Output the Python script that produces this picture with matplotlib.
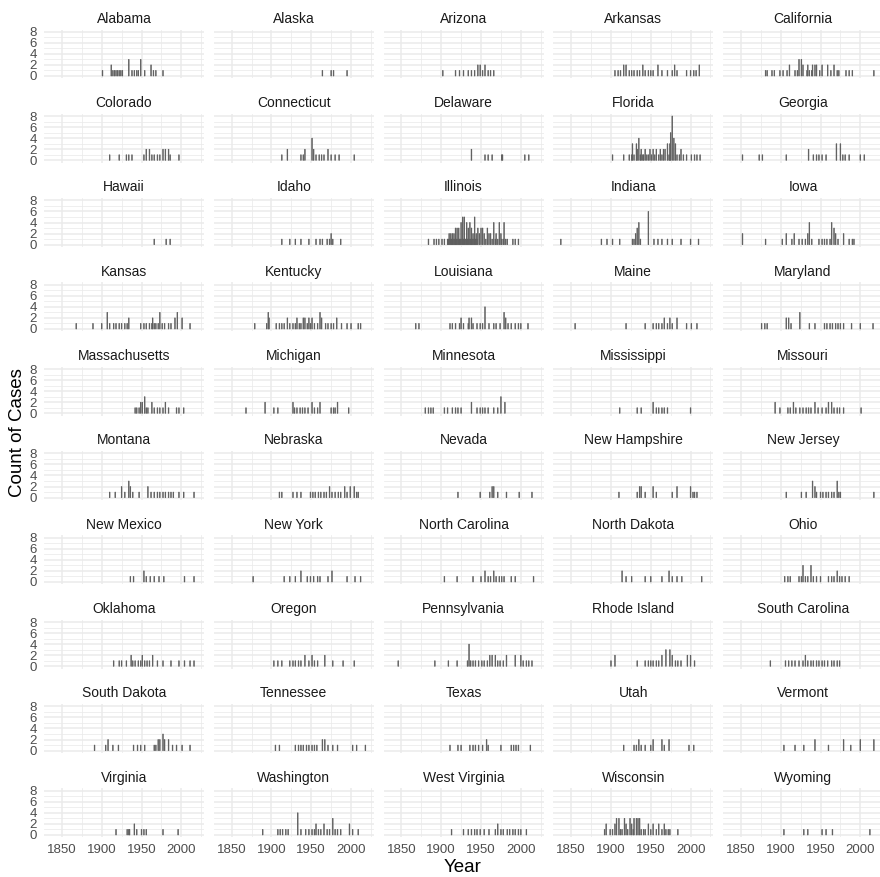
import matplotlib
matplotlib.use("Agg")
import matplotlib.pyplot as plt

plt.rcParams['font.family'] = ['Liberation Sans', 'DejaVu Sans']

# year -> count of cases
alabama = {1901: 1, 1912: 2, 1914: 1, 1916: 1, 1918: 1, 1920: 1, 1922: 1, 1924: 1, 1926: 1, 1934: 3,
           1938: 1, 1941: 1, 1944: 1, 1946: 1, 1949: 3, 1954: 1, 1962: 2, 1965: 1, 1968: 1, 1977: 1}
alaska = {1964: 1, 1975: 1, 1978: 1, 1995: 1}
arizona = {1902: 1, 1918: 1, 1923: 1, 1928: 1, 1934: 1, 1938: 1, 1942: 1, 1946: 2, 1949: 2, 1952: 1,
           1955: 2, 1959: 1, 1962: 1, 1966: 1}
arkansas = {1905: 1, 1909: 1, 1912: 1, 1916: 2, 1919: 2, 1923: 1, 1926: 1, 1929: 1, 1933: 1, 1936: 1,
            1940: 2, 1943: 1, 1947: 1, 1950: 1, 1953: 1, 1959: 2, 1964: 1, 1971: 1, 1977: 1, 1980: 2,
            1983: 1, 1995: 1, 2000: 1, 2004: 1, 2007: 1, 2011: 2}
california = {1881: 1, 1883: 1, 1889: 1, 1892: 1, 1899: 1, 1903: 1, 1908: 1, 1911: 2, 1918: 1, 1921: 1,
              1923: 3, 1926: 3, 1928: 2, 1933: 1, 1934: 2, 1936: 1, 1939: 1, 1940: 2, 1943: 2, 1945: 2,
              1949: 1, 1952: 2, 1959: 2, 1963: 1, 1967: 2, 1971: 1, 1973: 1, 1982: 1, 1986: 1, 1990: 1,
              2017: 1}
colorado = {1910: 1, 1922: 1, 1931: 1, 1934: 1, 1938: 1, 1953: 1, 1956: 2, 1960: 2, 1963: 1, 1966: 1,
            1970: 1, 1973: 1, 1977: 2, 1980: 2, 1984: 2, 1986: 1, 1997: 1}
connecticut = {1913: 1, 1920: 2, 1937: 1, 1940: 1, 1942: 2, 1951: 4, 1953: 2, 1956: 1, 1960: 1, 1963: 1,
               1966: 1, 1971: 2, 1975: 1, 1980: 1, 1985: 1, 2004: 1}
delaware = {1938: 2, 1955: 1, 1959: 1, 1964: 1, 1976: 1, 1977: 1, 2005: 1, 2010: 1}
florida = {1902: 1, 1916: 1, 1923: 1, 1926: 1, 1927: 3, 1929: 1, 1932: 3, 1933: 2, 1935: 4, 1937: 1,
           1938: 2, 1940: 1, 1941: 1, 1943: 2, 1945: 1, 1947: 1, 1949: 2, 1951: 1, 1953: 2, 1955: 1,
           1957: 2, 1960: 1, 1962: 2, 1964: 1, 1966: 2, 1968: 2, 1971: 3, 1973: 1, 1974: 3, 1975: 5,
           1977: 8, 1979: 4, 1981: 3, 1983: 1, 1986: 1, 1988: 2, 1991: 1, 1995: 1, 2001: 1, 2005: 1,
           2008: 1, 2012: 1}
georgia = {1852: 1, 1873: 1, 1877: 1, 1907: 1, 1935: 2, 1941: 1, 1945: 1, 1948: 1, 1952: 1, 1957: 1,
           1970: 3, 1975: 3, 1978: 1, 1981: 1, 1986: 1, 2000: 1, 2005: 1}
hawaii = {1966: 1, 1981: 1, 1986: 1}
idaho = {1913: 1, 1923: 1, 1930: 1, 1937: 1, 1947: 1, 1956: 1, 1961: 1, 1964: 1, 1970: 1, 1973: 1,
         1975: 2, 1977: 1, 1987: 1}
illinois = {1884: 1, 1891: 1, 1894: 1, 1897: 1, 1901: 1, 1904: 1, 1908: 1, 1910: 2, 1912: 2, 1914: 2,
            1916: 2, 1918: 3, 1920: 3, 1922: 3, 1925: 4, 1927: 5, 1929: 5, 1932: 4, 1934: 3, 1936: 4,
            1938: 3, 1940: 2, 1942: 5, 1944: 2, 1946: 3, 1948: 2, 1950: 3, 1952: 3, 1954: 2, 1956: 1,
            1958: 3, 1960: 2, 1962: 2, 1964: 1, 1966: 4, 1968: 1, 1969: 2, 1971: 1, 1973: 4, 1975: 2,
            1976: 1, 1978: 1, 1979: 4, 1981: 1, 1983: 1, 1990: 1, 1993: 1, 1997: 1,
            1909: 1, 1911: 1, 1913: 1, 1915: 1, 1917: 1, 1919: 1, 1921: 1, 1923: 1, 1924: 1, 1926: 1,
            1928: 1, 1930: 1, 1931: 1, 1933: 1, 1935: 1, 1937: 1, 1939: 1, 1941: 1, 1943: 1, 1945: 1}
indiana = {1837: 1, 1888: 1, 1895: 1, 1902: 1, 1911: 1, 1927: 1, 1929: 1, 1931: 2, 1933: 3, 1935: 4,
           1937: 1, 1947: 6, 1954: 1, 1959: 1, 1964: 1, 1971: 1, 1977: 1, 1988: 1, 2000: 1, 2010: 1}
iowa = {1852: 2, 1881: 1, 1902: 1, 1907: 2, 1914: 1, 1917: 2, 1923: 1, 1927: 1, 1931: 1, 1934: 2,
        1936: 4, 1939: 1, 1948: 1, 1952: 1, 1955: 1, 1958: 1, 1962: 1, 1964: 4, 1967: 3, 1969: 2,
        1972: 1, 1979: 2, 1986: 1, 1990: 1, 1992: 1}
kansas = {1868: 1, 1889: 1, 1900: 1, 1907: 3, 1910: 1, 1915: 1, 1918: 1, 1922: 1, 1925: 1, 1929: 1,
          1932: 1, 1934: 2, 1949: 1, 1953: 1, 1956: 1, 1960: 1, 1963: 1, 1964: 2, 1966: 1, 1968: 1,
          1971: 1, 1973: 3, 1976: 1, 1979: 1, 1984: 1, 1987: 1, 1992: 2, 1995: 3, 2001: 2, 2011: 1}
kentucky = {1879: 1, 1894: 1, 1896: 3, 1897: 2, 1906: 1, 1910: 1, 1913: 1, 1916: 1, 1920: 2, 1923: 1,
            1927: 1, 1930: 1, 1932: 2, 1935: 1, 1937: 1, 1940: 2, 1942: 2, 1945: 1, 1947: 2, 1949: 1,
            1951: 2, 1954: 1, 1958: 1, 1961: 3, 1963: 2, 1968: 1, 1971: 1, 1975: 1, 1978: 1, 1982: 2,
            1988: 1, 1995: 1, 2000: 1, 2009: 1, 2012: 1}
louisiana = {1868: 1, 1872: 1, 1911: 1, 1914: 1, 1918: 1, 1923: 1, 1925: 2, 1928: 1, 1934: 1, 1935: 2,
             1938: 2, 1940: 1, 1945: 1, 1949: 1, 1952: 1, 1955: 4, 1960: 1, 1966: 1, 1969: 1, 1974: 1,
             1979: 3, 1981: 2, 1984: 1, 1988: 1, 1993: 1, 1997: 1, 2000: 1, 2009: 1}
maine = {1855: 1, 1919: 1, 1943: 1, 1953: 1, 1957: 1, 1960: 1, 1964: 1, 1967: 2, 1971: 1, 1974: 2,
         1977: 1, 1983: 2, 1995: 1, 2001: 1, 2008: 1}
maryland = {1876: 1, 1880: 1, 1883: 1, 1907: 2, 1910: 2, 1913: 1, 1924: 3, 1936: 1, 1943: 1, 1955: 1,
            1958: 1, 1962: 1, 1965: 1, 1969: 1, 1972: 1, 1975: 1, 1979: 1, 1989: 1, 2000: 1, 2016: 1}
massachusetts = {1942: 1, 1944: 1, 1947: 1, 1949: 2, 1951: 2, 1954: 3, 1956: 1, 1958: 1, 1963: 2,
                 1966: 1, 1970: 1, 1973: 1, 1977: 1, 1980: 2, 1984: 1, 1994: 1, 1997: 1, 2003: 1}
michigan = {1868: 1, 1892: 2, 1903: 1, 1908: 1, 1927: 2, 1929: 1, 1932: 1, 1936: 1, 1939: 1, 1942: 1,
            1946: 1, 1951: 2, 1954: 1, 1958: 1, 1961: 2, 1975: 1, 1978: 1, 1980: 1, 1983: 2, 1997: 1}
minnesota = {1880: 1, 1884: 1, 1887: 1, 1890: 1, 1904: 1, 1908: 1, 1914: 1, 1918: 1, 1921: 1, 1925: 1,
             1938: 2, 1945: 1, 1949: 1, 1952: 1, 1955: 1, 1959: 1, 1966: 1, 1971: 1, 1975: 3, 1980: 2}
mississippi = {1911: 1, 1933: 1, 1938: 1, 1953: 2, 1957: 1, 1960: 1, 1964: 1, 1967: 1, 1971: 1, 2000: 1}
missouri = {1893: 2, 1899: 1, 1909: 1, 1912: 1, 1916: 2, 1919: 1, 1924: 1, 1928: 1, 1932: 1, 1935: 1,
            1938: 1, 1943: 2, 1947: 1, 1952: 1, 1957: 1, 1960: 2, 1964: 2, 1967: 1, 1971: 1, 1974: 1,
            1979: 1, 2001: 1}
montana = {1910: 1, 1917: 1, 1925: 2, 1929: 1, 1934: 3, 1936: 2, 1939: 1, 1947: 1, 1958: 2, 1962: 1,
           1966: 1, 1970: 1, 1973: 1, 1977: 1, 1980: 1, 1984: 1, 1987: 1, 1990: 1, 1997: 1, 2003: 1,
           2016: 1}
nebraska = {1910: 1, 1913: 1, 1927: 1, 1932: 1, 1937: 1, 1949: 1, 1952: 1, 1955: 1, 1959: 1, 1962: 1,
            1966: 1, 1969: 1, 1973: 2, 1976: 1, 1980: 1, 1984: 1, 1987: 1, 1992: 2, 1995: 1, 1999: 2,
            2004: 2, 2007: 1, 2009: 1}
nevada = {1921: 1, 1949: 1, 1961: 1, 1964: 2, 1966: 2, 1971: 1, 1982: 1, 1998: 1, 2014: 1}
new_hampshire = {1910: 1, 1933: 1, 1936: 2, 1938: 2, 1943: 1, 1953: 2, 1957: 1, 1977: 1, 1983: 2,
                 2000: 2, 2003: 1, 2005: 1, 2008: 1}
new_jersey = {1907: 1, 1926: 1, 1932: 1, 1940: 3, 1943: 2, 1945: 1, 1950: 1, 1953: 1, 1957: 1, 1960: 1,
              1964: 1, 1967: 1, 1971: 3, 1973: 1, 1975: 1, 2017: 1}
new_mexico = {1936: 1, 1940: 1, 1953: 2, 1956: 1, 1961: 1, 1966: 1, 1972: 1, 1978: 1, 2004: 1, 2016: 1}
new_york = {1877: 1, 1916: 1, 1923: 1, 1930: 1, 1937: 2, 1945: 1, 1949: 1, 1953: 1, 1958: 1, 1961: 1,
            1971: 1, 1976: 2, 1995: 1, 2005: 1, 2012: 1}
north_carolina = {1904: 1, 1920: 1, 1940: 1, 1950: 1, 1955: 2, 1959: 1, 1962: 1, 1966: 2, 1969: 1,
                  1973: 1, 1976: 1, 1979: 1, 1988: 1, 1993: 1, 2016: 1}
north_dakota = {1914: 2, 1919: 1, 1926: 1, 1943: 1, 1950: 1, 1964: 1, 1973: 2, 1977: 1, 1983: 1,
                1989: 1, 2014: 1}
ohio = {1905: 1, 1909: 1, 1912: 1, 1923: 1, 1926: 1, 1928: 3, 1931: 1, 1934: 1, 1938: 3, 1941: 1,
        1945: 1, 1950: 1, 1960: 1, 1964: 1, 1967: 1, 1971: 2, 1974: 1, 1977: 1, 1981: 1, 1986: 1}
oklahoma = {1915: 1, 1922: 1, 1925: 1, 1931: 1, 1937: 2, 1939: 1, 1942: 1, 1946: 1, 1949: 1, 1951: 2,
            1954: 1, 1957: 1, 1960: 1, 1964: 2, 1970: 1, 1977: 1, 1987: 1, 1997: 1, 2004: 1, 2011: 1,
            2016: 1}
oregon = {1903: 1, 1908: 1, 1913: 1, 1923: 1, 1927: 1, 1930: 1, 1934: 1, 1937: 1, 1942: 2, 1947: 1,
          1951: 2, 1954: 1, 1958: 1, 1967: 2, 1977: 1, 1990: 1, 2004: 1}
pennsylvania = {1846: 1, 1892: 1, 1909: 1, 1920: 1, 1933: 1, 1935: 4, 1937: 1, 1940: 1, 1943: 1,
                1947: 1, 1951: 1, 1954: 1, 1958: 1, 1961: 2, 1964: 2, 1968: 2, 1971: 1, 1974: 1,
                1978: 1, 1982: 2, 1993: 2, 2000: 2, 2003: 1, 2007: 1, 2010: 1, 2014: 1}
rhode_island = {1900: 1, 1905: 2, 1933: 1, 1943: 1, 1947: 1, 1950: 1, 1953: 1, 1957: 1, 1960: 1,
                1964: 2, 1969: 3, 1974: 3, 1977: 2, 1981: 1, 1984: 1, 1988: 1, 1996: 2, 2000: 2,
                2005: 1}
south_carolina = {1887: 1, 1906: 1, 1910: 1, 1914: 1, 1918: 1, 1923: 1, 1928: 1, 1931: 2, 1934: 1,
                  1938: 1, 1941: 1, 1945: 1, 1948: 1, 1952: 1, 1955: 1, 1959: 1, 1964: 1, 1967: 1,
                  1971: 1, 1974: 1}
south_dakota = {1891: 1, 1905: 1, 1908: 2, 1914: 1, 1921: 1, 1940: 1, 1945: 1, 1949: 1, 1954: 1,
                1966: 1, 1968: 1, 1971: 2, 1973: 2, 1977: 3, 1979: 2, 1984: 2, 1989: 1, 1994: 1,
                2001: 1, 2011: 1}
tennessee = {1905: 1, 1910: 1, 1930: 1, 1934: 1, 1937: 1, 1940: 1, 1944: 1, 1947: 1, 1951: 1, 1954: 1,
             1957: 1, 1964: 2, 1967: 2, 1971: 1, 1977: 1, 1983: 1, 2002: 1, 2007: 1, 2018: 1}
texas = {1911: 1, 1921: 1, 1925: 1, 1936: 1, 1940: 1, 1943: 1, 1947: 1, 1952: 1, 1957: 2, 1959: 1,
         1975: 1, 1988: 1, 1991: 1, 1994: 1, 1997: 1, 2012: 1}
utah = {1916: 1, 1929: 1, 1932: 1, 1935: 2, 1938: 1, 1943: 1, 1950: 1, 1953: 2, 1964: 2, 1967: 1,
        1973: 2, 1998: 1, 2004: 1}
vermont = {1904: 1, 1918: 1, 1929: 1, 1943: 2, 1960: 1, 1979: 2, 1988: 1, 2000: 2, 2017: 2}
virginia = {1918: 1, 1932: 1, 1934: 1, 1935: 1, 1941: 2, 1944: 1, 1950: 1, 1953: 1, 1956: 1, 1977: 1,
            1996: 1}
washington = {1889: 1, 1908: 1, 1911: 1, 1914: 1, 1918: 1, 1921: 1, 1933: 4, 1937: 1, 1943: 1, 1947: 1,
              1951: 1, 1954: 1, 1956: 2, 1959: 1, 1962: 1, 1966: 2, 1970: 1, 1973: 1, 1977: 3,
              1980: 1, 1983: 1, 1987: 1, 1998: 2, 2002: 1, 2009: 1}
west_virginia = {1913: 1, 1928: 1, 1934: 1, 1938: 1, 1942: 1, 1945: 1, 1949: 1, 1954: 1, 1960: 1,
                 1968: 1, 1971: 2, 1975: 1, 1978: 1, 1983: 1, 1986: 1, 1990: 1, 1993: 1, 1997: 1,
                 2000: 1, 2007: 1}
wisconsin = {1892: 1, 1894: 2, 1899: 1, 1902: 1, 1905: 2, 1907: 3, 1910: 3, 1912: 1, 1914: 1, 1917: 3,
             1919: 2, 1921: 1, 1924: 3, 1926: 2, 1928: 1, 1929: 3, 1932: 3, 1934: 3, 1936: 3, 1938: 1,
             1941: 1, 1943: 1, 1947: 2, 1950: 1, 1953: 2, 1957: 1, 1960: 2, 1964: 1, 1967: 2, 1969: 1,
             1972: 1, 1974: 1, 1984: 1}
wyoming = {1904: 1, 1929: 1, 1934: 1, 1952: 1, 1957: 1, 1965: 1, 2012: 1}

states = ["Alabama", "Alaska", "Arizona", "Arkansas", "California",
          "Colorado", "Connecticut", "Delaware", "Florida", "Georgia",
          "Hawaii", "Idaho", "Illinois", "Indiana", "Iowa",
          "Kansas", "Kentucky", "Louisiana", "Maine", "Maryland",
          "Massachusetts", "Michigan", "Minnesota", "Mississippi", "Missouri",
          "Montana", "Nebraska", "Nevada", "New Hampshire", "New Jersey",
          "New Mexico", "New York", "North Carolina", "North Dakota", "Ohio",
          "Oklahoma", "Oregon", "Pennsylvania", "Rhode Island", "South Carolina",
          "South Dakota", "Tennessee", "Texas", "Utah", "Vermont",
          "Virginia", "Washington", "West Virginia", "Wisconsin", "Wyoming"]
state_cases = [alabama, alaska, arizona, arkansas, california,
               colorado, connecticut, delaware, florida, georgia,
               hawaii, idaho, illinois, indiana, iowa,
               kansas, kentucky, louisiana, maine, maryland,
               massachusetts, michigan, minnesota, mississippi, missouri,
               montana, nebraska, nevada, new_hampshire, new_jersey,
               new_mexico, new_york, north_carolina, north_dakota, ohio,
               oklahoma, oregon, pennsylvania, rhode_island, south_carolina,
               south_dakota, tennessee, texas, utah, vermont,
               virginia, washington, west_virginia, wisconsin, wyoming]

W, H = 880, 877
fig = plt.figure(figsize=(W / 100, H / 100), dpi=100)

# panel grid in pixels
left0, col_step, pw = 44, 169.75, 160
top0, row_step, ph = 29.5, 84.33, 48.7
bar_col = '#5e5e5e'
grid_col = '#EBEBEB'

for i, (name, cases) in enumerate(zip(states, state_cases)):
    r, c = divmod(i, 5)
    x0 = left0 + c * col_step
    y0 = top0 + r * row_step
    ax = fig.add_axes([x0 / W, 1 - (y0 + ph) / H, pw / W, ph / H])
    yrs = list(cases.keys())
    cnt = list(cases.values())
    bars = ax.bar(yrs, cnt, width=0.9, color=bar_col, edgecolor=bar_col, linewidth=0.45, zorder=3)
    for b in bars:
        b.set_snap(False)
    ax.set_xlim(1827.5, 2028.5)
    ax.set_ylim(-0.4, 8.4)
    ax.set_xticks([1850, 1900, 1950, 2000])
    ax.set_xticks([1875, 1925, 1975, 2025], minor=True)
    ax.set_yticks([0, 2, 4, 6, 8])
    ax.set_yticks([1, 3, 5, 7], minor=True)
    ax.grid(which='major', color=grid_col, linewidth=1.1, zorder=0)
    ax.grid(which='minor', color=grid_col, linewidth=0.55, zorder=0)
    ax.set_axisbelow(True)
    for s in ax.spines.values():
        s.set_visible(False)
    ax.tick_params(which='both', length=0, labelsize=9.5, labelcolor='#4D4D4D', pad=5)
    if c != 0:
        ax.set_yticklabels([])
    if r != 9:
        ax.set_xticklabels([])
    ax.set_title(name, fontsize=10, color='#1A1A1A', pad=5)

fig.text(18 / W, 1 - 433 / H, 'Count of Cases', rotation=90, ha='center', va='center', fontsize=13.5)
fig.text(463 / W, 1 - 868 / H, 'Year', ha='center', va='center', fontsize=13.5)

fig.savefig('out.png', dpi=100)
